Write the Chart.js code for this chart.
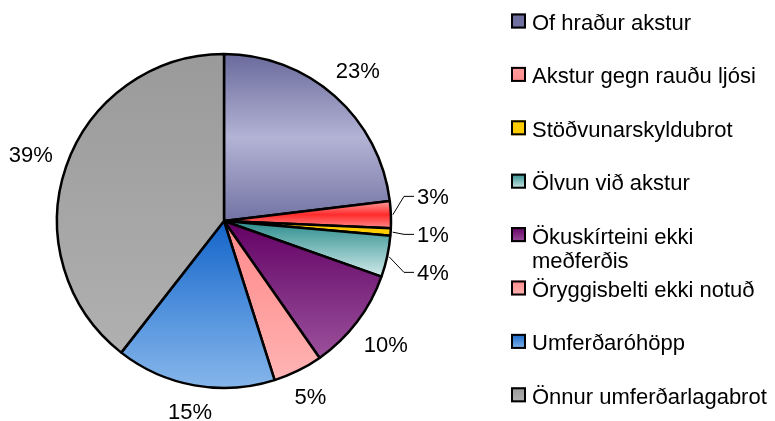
<!DOCTYPE html>
<html>
<head>
<meta charset="utf-8">
<script src="https://cdn.jsdelivr.net/npm/chart.js@4.4.1/dist/chart.umd.min.js"></script>
<style>
html, body { margin: 0; padding: 0; background: #fff; }
#wrap { width: 775px; height: 421px; }
</style>
</head>
<body>
<div id="wrap"><canvas id="chart" width="775" height="421"></canvas></div>
<script>
const categories = [
    'Of hraður akstur',
    'Akstur gegn rauðu ljósi',
    'Stöðvunarskyldubrot',
    'Ölvun við akstur',
    'Ökuskírteini ekki meðferðis',
    'Öryggisbelti ekki notuð',
    'Umferðaróhöpp',
    'Önnur umferðarlagabrot'
];
const shares = [23.1, 2.6, 0.7, 4.0, 9.9, 4.8, 15.45, 39.45];

// fill of each slice, from its top to its bottom
const fills = [
    ['#6a6a9c', '#b3b3d5', '#7373a4'],
    ['#ff9c9c', '#ff2b2b', '#ff8a8a'],
    ['#ffcc00', '#ffcc00', '#ffcc00'],
    ['#2b8c8c', '#7fbcbc', '#d2eaea'],
    ['#640064', '#7d2a80', '#9c509c'],
    ['#ff8a8a', '#ff9c9c', '#ffb4b4'],
    ['#1464c8', '#4d8fdc', '#86b6ea'],
    ['#9a9a9a', '#a5a5a5', '#b0b0b0']
];
const FONT_SIZE = 22;
const FONT = FONT_SIZE + 'px "Liberation Sans", Arial, sans-serif';
const RADIUS = 167;

const total = shares.reduce((a, b) => a + b, 0);

function sliceYRange(cy, r, a0, a1) {
    const ys = [cy, cy + r * Math.sin(a0), cy + r * Math.sin(a1)];
    for (let k = -2; k <= 3; k++) {
        const a = Math.PI / 2 + k * Math.PI;
        if (a >= a0 && a <= a1) ys.push(cy + r * Math.sin(a));
    }
    return [Math.min(...ys), Math.max(...ys)];
}

function sliceFill(c) {
    const area = c.chart.chartArea;
    const f = fills[c.dataIndex];
    if (!area || c.type !== 'data') return f[1];
    const cy = (area.top + area.bottom) / 2;
    let cum = 0;
    for (let i = 0; i < c.dataIndex; i++) cum += shares[i];
    const a0 = -Math.PI / 2 + 2 * Math.PI * cum / total;
    const a1 = a0 + 2 * Math.PI * shares[c.dataIndex] / total;
    const [y0, y1] = sliceYRange(cy, RADIUS, a0, a1);
    const g = c.chart.ctx.createLinearGradient(0, y0, 0, y1 + 0.01);
    g.addColorStop(0, f[0]);
    g.addColorStop(0.5, f[1]);
    g.addColorStop(1, f[2]);
    return g;
}

const pctLabels = {
    id: 'pctLabels',
    afterDatasetsDraw(chart) {
        const ctx = chart.ctx;
        const arcs = chart.getDatasetMeta(0).data;
        ctx.save();
        ctx.font = FONT;
        ctx.fillStyle = '#000';
        ctx.strokeStyle = '#000';
        ctx.lineWidth = 1;
        const small = [];
        arcs.forEach((arc, i) => {
            const p = arc.getProps(['x', 'y', 'startAngle', 'endAngle', 'outerRadius']);
            const mid = (p.startAngle + p.endAngle) / 2;
            const pct = shares[i] / total * 100;
            const txt = Math.round(pct) + '%';
            const cos = Math.cos(mid), sin = Math.sin(mid);
            if (pct < 4.5) {
                small.push({ p, cos, sin, txt, ny: p.y + sin * p.outerRadius });
                return;
            }
            const w = ctx.measureText(txt).width, h = 16;
            const d = p.outerRadius + 14 + Math.abs(cos) * w / 2 + Math.abs(sin) * h / 2;
            ctx.textAlign = 'center';
            ctx.fillText(txt, p.x + cos * d, p.y + sin * d + 0.358 * FONT_SIZE);
        });
        if (small.length) {
            const mean = small.reduce((a, s) => a + s.ny, 0) / small.length;
            small.forEach((s, j) => {
                const ly = mean + (j - (small.length - 1) / 2) * 38;
                const lx = s.p.x + s.p.outerRadius + 26;
                const r = s.p.outerRadius + 2;
                ctx.beginPath();
                ctx.moveTo(s.p.x + s.cos * r, s.p.y + s.sin * r);
                ctx.lineTo(lx - 13, ly);
                ctx.lineTo(lx - 3, ly);
                ctx.stroke();
                ctx.textAlign = 'left';
                ctx.fillText(s.txt, lx, ly + 0.358 * FONT_SIZE);
            });
        }
        ctx.restore();
    }
};

const sideLegend = {
    id: 'sideLegend',
    afterDraw(chart) {
        const ctx = chart.ctx;
        ctx.save();
        ctx.font = FONT;
        ctx.fillStyle = '#000';
        ctx.textAlign = 'left';
        const maxW = 240;
        categories.forEach((label, i) => {
            const top = 13.5 + i * 53.4;
            const f = fills[i];
            const g = ctx.createLinearGradient(0, top, 0, top + 15);
            g.addColorStop(0, f[0]);
            g.addColorStop(1, f[2]);
            ctx.fillStyle = g;
            ctx.fillRect(511, top, 15, 15);
            ctx.strokeStyle = '#000';
            ctx.lineWidth = 2;
            ctx.strokeRect(512, top + 1, 13, 13);
            ctx.fillStyle = '#000';
            // wrap words
            const words = label.split(' ');
            const lines = [];
            let cur = '';
            words.forEach(wd => {
                const test = cur ? cur + ' ' + wd : wd;
                if (ctx.measureText(test).width > maxW && cur) {
                    lines.push(cur);
                    cur = wd;
                } else {
                    cur = test;
                }
            });
            lines.push(cur);
            lines.forEach((ln, k) => ctx.fillText(ln, 532, top + 16.5 + k * 24));
        });
        ctx.restore();
    }
};

new Chart(document.getElementById('chart'), {
    type: 'pie',
    data: {
        labels: categories,
        datasets: [{
            data: shares,
            backgroundColor: sliceFill,
            borderColor: '#000',
            borderWidth: 2.5,
            radius: RADIUS
        }]
    },
    options: {
        responsive: false,
        animation: false,
        layout: { padding: { left: 30, right: 357, top: 41, bottom: 20 } },
        plugins: {
            legend: { display: false },
            tooltip: { enabled: false },
            title: { display: false }
        }
    },
    plugins: [pctLabels, sideLegend]
});
</script>
</body>
</html>
